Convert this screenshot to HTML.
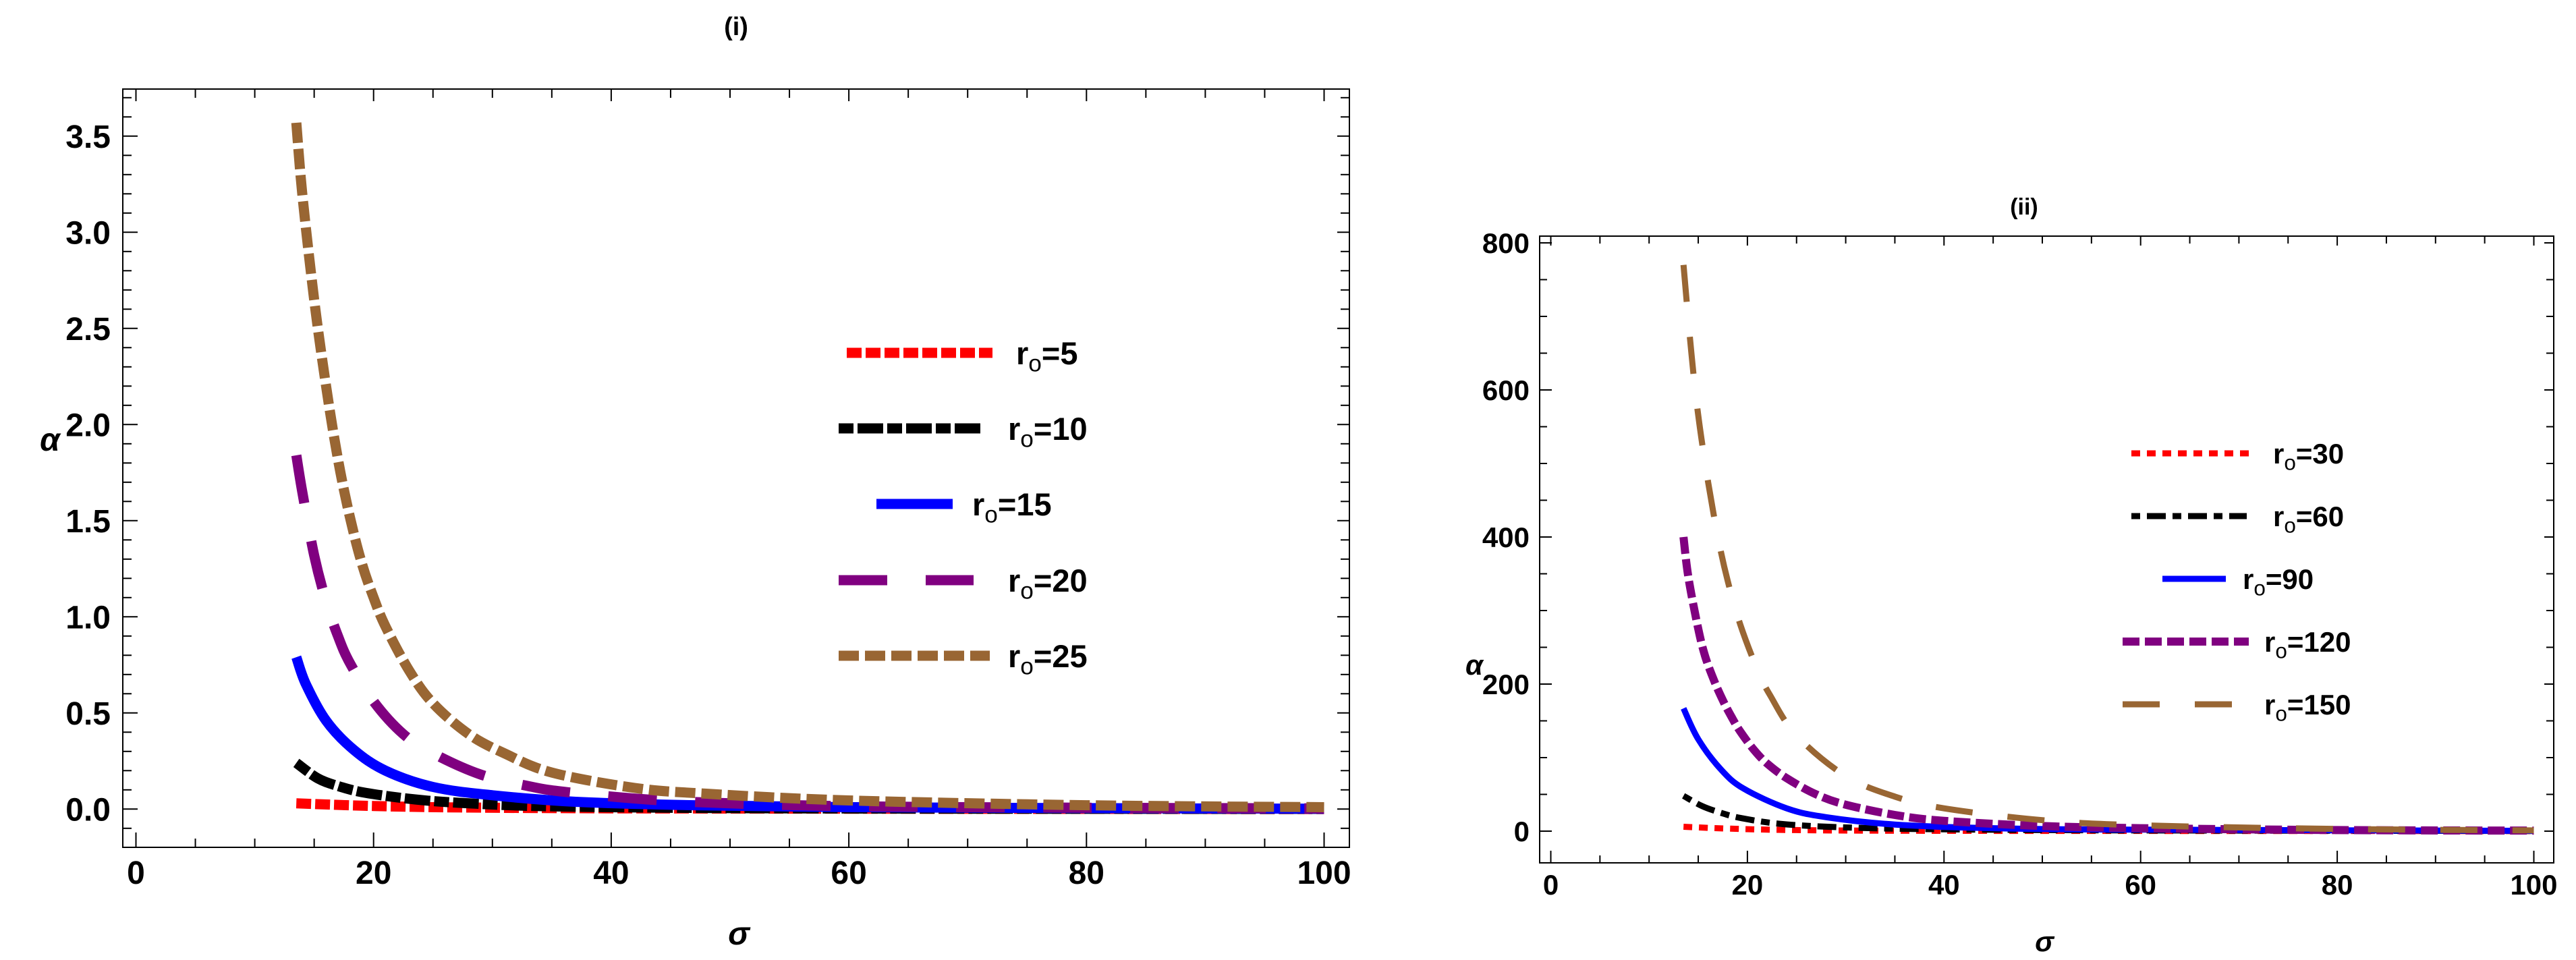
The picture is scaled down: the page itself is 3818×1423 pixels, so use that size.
<!DOCTYPE html>
<html><head><meta charset="utf-8"><style>
html,body{margin:0;padding:0;background:#fff;}
svg{display:block;}
text{font-family:"Liberation Sans",sans-serif;font-weight:bold;fill:#000;}
</style></head><body>
<svg id="fig" width="3818" height="1423" viewBox="0 0 3818 1423" xmlns="http://www.w3.org/2000/svg">
<rect width="3818" height="1423" fill="#fff"/>
<g id="p1"></g>
<g id="p2"></g>
</svg>
<script>
// ---------- Panel (i) data ----------
const L_redSig = [13.5,20,28,40,60,100];
const L_redVal = [0.03,0.016,0.008,0.004,0.002,0.0];
const L_blackSig = [13.5,15.3,17,19.3,23.5,28,35,50,70,100];
const L_blackVal = [0.24,0.16,0.12,0.085,0.05,0.03,0.014,0.005,0.002,0.001];
const L_blueSig = [13.5,14.3,16,18.3,21,25,30,37,47,60,80,100];
const L_blueVal = [0.79,0.65,0.46,0.31,0.2,0.115,0.072,0.038,0.02,0.01,0.005,0.002];
const L_purpleSig = [13.5,14,15,16,17,18,20,22.5,25,29,33,36,43,50,60,80,100];
const L_purpleVal = [1.84,1.65,1.32,1.08,0.9,0.76,0.56,0.39,0.29,0.18,0.12,0.09,0.05,0.03,0.015,0.007,0.004];
const L_brownSig = [13.5,14,15,16,17,18,19,20,21,23,25,28,31,35,42,48,60,80,100];
const L_brownVal = [3.57,3.2,2.65,2.2,1.82,1.52,1.28,1.1,0.95,0.72,0.55,0.39,0.29,0.19,0.11,0.08,0.045,0.02,0.01];
const L_xTicks = [0,20,40,60,80,100];
const L_yTicks = [0.0,0.5,1.0,1.5,2.0,2.5,3.0,3.5];
const L_yTickLabels = ["0.0","0.5","1.0","1.5","2.0","2.5","3.0","3.5"];
const L_legend = ["5","10","15","20","25"];
// ---------- Panel (ii) data ----------
const R_redSig = [13.5,18,25,40,100];
const R_redVal = [6,3.5,1.5,0.5,0.1];
const R_blackSig = [13.5,15.4,17.3,19.3,23.3,30,40,60,100];
const R_blackVal = [48,34,25,18,10,5,2.5,1,0.3];
const R_blueSig = [13.5,15,17.3,19.6,24,28,35,45,60,100];
const R_blueVal = [167,125,84,58,31,19,9,4,2,0.5];
const R_purpleSig = [13.5,14,15,15.7,16.6,17.5,18.4,19.3,20.7,22,24,27,30,35,40,50,60,80,100];
const R_purpleVal = [400,345,275,238,205,178,155,135,110,92,72,50,36,22,14,7,4,1.5,0.7];
const R_brownSig = [13.5,14.3,15,16,17,18,19.3,21,22.3,25,30,35,40,50,60,80,100];
const R_brownVal = [770,650,565,475,400,340,280,220,185,130,75,47,31,15,8,3,1];
const R_xTicks = [0,20,40,60,80,100];
const R_yTicks = [0,200,400,600,800];
const R_yTickLabels = ["0","200","400","600","800"];
const R_legend = ["30","60","90","120","150"];

const NS = "http://www.w3.org/2000/svg";
function mk(parent, tag, attrs){ const e=document.createElementNS(NS,tag); for(const k in attrs) e.setAttribute(k,attrs[k]); parent.appendChild(e); return e; }
function smoothPath(pts){
  let d="M"+pts[0][0].toFixed(1)+","+pts[0][1].toFixed(1);
  for(let i=0;i<pts.length-1;i++){
    const p0=pts[Math.max(0,i-1)],p1=pts[i],p2=pts[i+1],p3=pts[Math.min(pts.length-1,i+2)];
    const c1=[p1[0]+(p2[0]-p0[0])/6,p1[1]+(p2[1]-p0[1])/6];
    const c2=[p2[0]-(p3[0]-p1[0])/6,p2[1]-(p3[1]-p1[1])/6];
    d+=" C"+c1[0].toFixed(1)+","+c1[1].toFixed(1)+" "+c2[0].toFixed(1)+","+c2[1].toFixed(1)+" "+p2[0].toFixed(1)+","+p2[1].toFixed(1);
  }
  return d;
}

function panel(g, cfg){
  const {L,R,T,B,sx,sy,xMinor,yMinor,majLen,minLen,fs,series,legend,legRows,title,titleXY,alphaXY,sigmaXY,xLabY,yLabX,xTicks,yTicks,yTickLabels} = cfg;
  const fr = mk(g,"rect",{x:L,y:T,width:R-L,height:B-T,fill:"none",stroke:"#000","stroke-width":2});
  
  
  for(let v=0; v<=100; v+=xMinor){
    const x=sx(v); const major = v%20===0; const len= major?majLen:minLen;
    const t1=mk(g,"line",{x1:x,y1:B,x2:x,y2:B-len,stroke:"#000","stroke-width":2});
    
    
    const t2=mk(g,"line",{x1:x,y1:T,x2:x,y2:T+(major?majLen-4:minLen),stroke:"#000","stroke-width":2});
    
    
  }
  xTicks.forEach(v=>{
    const t=mk(g,"text",{x:sx(v),y:xLabY,"font-size":fs,"text-anchor":"middle"}); t.textContent=String(v);
    
    
  });
  for(let k=0;k<yMinor.length;k++){
    const v=yMinor[k]; const y=sy(v); const major=yTicks.some(t=>Math.abs(t-v)<1e-9); const len=major?majLen:minLen;
    const t1=mk(g,"line",{x1:L,y1:y,x2:L+len,y2:y,stroke:"#000","stroke-width":2});
    
    
    const t2=mk(g,"line",{x1:R,y1:y,x2:R-(major?majLen-4:minLen),y2:y,stroke:"#000","stroke-width":2});
    
    
  }
  yTicks.forEach((v,i)=>{
    const t=mk(g,"text",{x:yLabX,y:sy(v)+fs*0.36,"font-size":fs,"text-anchor":"end"}); t.textContent=yTickLabels[i];
    
    
  });
  const cid="clip"+g.id;
  const cp=mk(g,"clipPath",{id:cid}); mk(cp,"rect",{x:L,y:T,width:R-L,height:B-T});
  const sg=mk(g,"g",{"clip-path":"url(#"+cid+")"});
  series.forEach(s=>{
    const pts=s.sig.map((x,i)=>[sx(x),sy(s.val[i])]);
    const p=mk(sg,"path",{d:smoothPath(pts),fill:"none",stroke:s.color,"stroke-width":s.w,"stroke-dasharray":s.dash||"none","stroke-linecap":"butt"});
    
    
  });
  series.forEach((s,i)=>{
    const lr=legRows[i];
    const lg=mk(g,"g",{});
    
    
    mk(lg,"line",{x1:lr[0],y1:lr[2],x2:lr[1],y2:lr[2],stroke:s.color,"stroke-width":s.lw,"stroke-dasharray":s.ldash||"none"});
    const t=mk(lg,"text",{x:lr[3],y:lr[2]+legend.fs*0.36,"font-size":legend.fs});
    const a=mk(t,"tspan",{}); a.textContent="r";
    const b=mk(t,"tspan",{dy:legend.fs*0.22,"font-size":legend.fs*0.75,"font-weight":"normal"}); b.textContent="o";
    const c=mk(t,"tspan",{dy:-legend.fs*0.22}); c.textContent="="+s.label;
  });
  const tt=mk(g,"text",{x:titleXY[0],y:titleXY[1],"font-size":cfg.tfs,"text-anchor":"middle"}); tt.textContent=title;
  
  
  const al=mk(g,"text",{x:alphaXY[0],y:alphaXY[1],"font-size":fs,"text-anchor":"middle","font-style":"italic"}); al.textContent="α";
  
  
  const sl=mk(g,"text",{x:sigmaXY[0],y:sigmaXY[1],"font-size":fs,"text-anchor":"middle","font-style":"italic"}); sl.textContent="σ";
  
  
}

(function(){
  const sx=v=>201.5+17.61*v, sy=v=>1199.3-285*v;
  const yMinor=[]; for(let k=-1;k<=37;k++) yMinor.push(Math.round(k)/10);
  panel(document.getElementById('p1'),{
    L:182,R:2000,T:132,B:1256,sx,sy,xMinor:5,yMinor,majLen:22,minLen:13,fs:48,tfs:38,
    xTicks:L_xTicks,yTicks:L_yTicks,yTickLabels:L_yTickLabels,xLabY:1310,yLabX:164,
    title:"(i)",titleXY:[1091,52],alphaXY:[74,668],sigmaXY:[1095,1400],
    legend:{fs:47},
    legRows:[[1255,1471,523,1506],[1243,1453,635,1494],[1299,1412,747,1441],[1243,1443,860,1494],[1243,1467,972,1494]],
    series:[
      {label:L_legend[0],sig:L_redSig,val:L_redVal,color:"#ff0000",w:15,dash:"22 6",lw:15,ldash:"22 6"},
      {label:L_legend[1],sig:L_blackSig,val:L_blackVal,color:"#000000",w:15,dash:"22 6 38 6",lw:15,ldash:"22 6 38 6"},
      {label:L_legend[2],sig:L_blueSig,val:L_blueVal,color:"#0000ff",w:15,dash:null,lw:15,ldash:null},
      {label:L_legend[3],sig:L_purpleSig,val:L_purpleVal,color:"#800080",w:15,dash:"72 57",lw:15,ldash:"72 57"},
      {label:L_legend[4],sig:L_brownSig,val:L_brownVal,color:"#996633",w:15,dash:"30 9",lw:15,ldash:"30 9"}
    ]
  });
})();
(function(){
  const sx=v=>2298.5+14.57*v, sy=v=>1232-1.09*v;
  const yMinor=[]; for(let k=0;k<=16;k++) yMinor.push(k*50);
  panel(document.getElementById('p2'),{
    L:2282,R:3785,T:350,B:1279,sx,sy,xMinor:5,yMinor,majLen:18,minLen:11,fs:42,tfs:34,
    xTicks:R_xTicks,yTicks:R_yTicks,yTickLabels:R_yTickLabels,xLabY:1326,yLabX:2267,
    title:"(ii)",titleXY:[3000,318],alphaXY:[2185,1000],sigmaXY:[3030,1410],
    legend:{fs:42},
    legRows:[[3159,3335,672,3369],[3159,3330,765,3369],[3205,3299,858,3324],[3146,3333,951,3356],[3146,3308,1044,3356]],
    series:[
      {label:R_legend[0],sig:R_redSig,val:R_redVal,color:"#ff0000",w:9,dash:"13 10",lw:9,ldash:"13 10"},
      {label:R_legend[1],sig:R_blackSig,val:R_blackVal,color:"#000000",w:9,dash:"13 10 28 10",lw:9,ldash:"13 10 28 10"},
      {label:R_legend[2],sig:R_blueSig,val:R_blueVal,color:"#0000ff",w:9,dash:null,lw:9,ldash:null},
      {label:R_legend[3],sig:R_purpleSig,val:R_purpleVal,color:"#800080",w:12,dash:"25 8",lw:12,ldash:"25 8"},
      {label:R_legend[4],sig:R_brownSig,val:R_brownVal,color:"#996633",w:9,dash:"55 52",lw:9,ldash:"55 52"}
    ]
  });
})();
</script>
</body></html>
